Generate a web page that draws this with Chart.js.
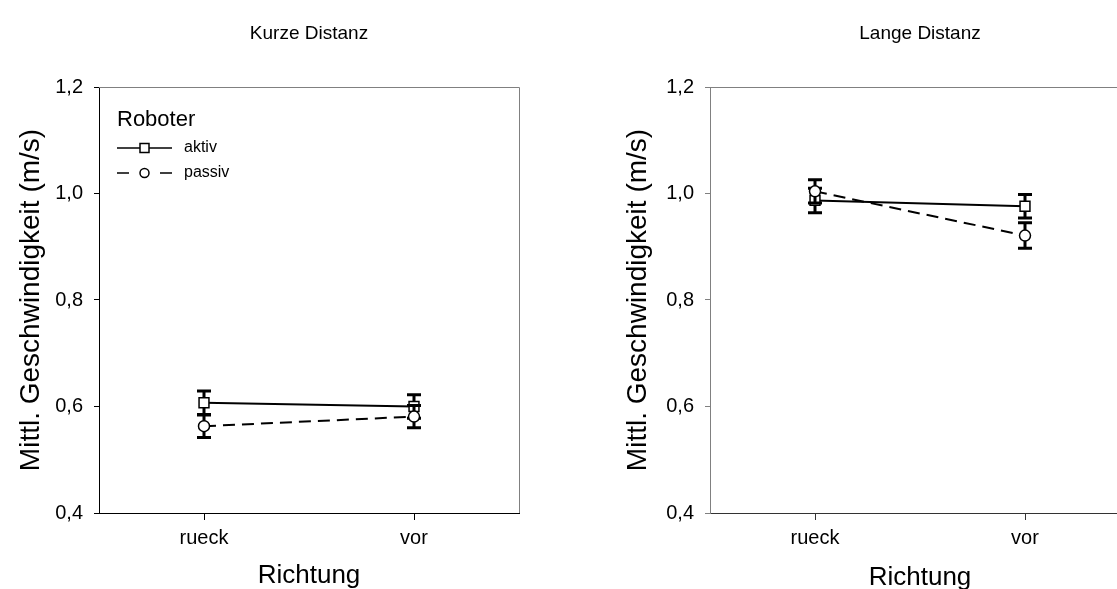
<!DOCTYPE html>
<html><head><meta charset="utf-8">
<script src="https://cdn.jsdelivr.net/npm/chart.js@4.4.1/dist/chart.umd.min.js"></script>
<style>
html,body{margin:0;padding:0;background:#fff;overflow:hidden;width:1117px;height:589px;}
#wrap{position:relative;width:1117px;height:589px;overflow:hidden;background:#fff;}
canvas{position:absolute;top:0;}
#c1{left:0;} #c2{left:590px;}
</style></head><body><div id="wrap">
<canvas id="c1" width="618" height="591" style="width:618px;height:591px"></canvas>
<canvas id="c2" width="660" height="593" style="width:660px;height:593px"></canvas>
</div>
<script>
const categories = ['rueck', 'vor'];
const yTickValues = [0.4, 0.6, 0.8, 1.0, 1.2];
const yTickLabels = ['0,4', '0,6', '0,8', '1,0', '1,2'];
const seriesNames = ['aktiv', 'passiv'];
const legendTitle = 'Roboter';
const yTitle = 'Mittl. Geschwindigkeit (m/s)';
const xTitle = 'Richtung';
const titleKurz = 'Kurze Distanz';
const titleLang = 'Lange Distanz';

const kurzAktiv = [0.607, 0.600];
const kurzAktivErr = [0.022, 0.022];
const kurzPassiv = [0.563, 0.581];
const kurzPassivErr = [0.021, 0.021];

const langAktiv = [0.987, 0.976];
const langAktivErr = [0.023, 0.022];
const langPassiv = [1.004, 0.921];
const langPassivErr = [0.022, 0.024];

const FONT = "'Liberation Sans', Arial, sans-serif";

const errorBarPlugin = {
  id: 'errorBars',
  beforeDatasetDraw(chart, args) {
    const ds = chart.data.datasets[args.index];
    if (!ds.errors) return;
    const xs = chart.scales.x, ys = chart.scales.y, ctx = chart.ctx;
    ctx.save();
    ctx.strokeStyle = '#000';
    ctx.lineWidth = 3;
    ds.data.forEach((v, i) => {
      const px = xs.getPixelForValue(i);
      const t = ys.getPixelForValue(v + ds.errors[i]);
      const b = ys.getPixelForValue(v - ds.errors[i]);
      ctx.beginPath();
      ctx.moveTo(px, t); ctx.lineTo(px, b);
      ctx.moveTo(px - 7, t); ctx.lineTo(px + 7, t);
      ctx.moveTo(px - 7, b); ctx.lineTo(px + 7, b);
      ctx.stroke();
    });
    ctx.restore();
  }
};

const framePlugin = {
  id: 'frame',
  afterDraw(chart, args, opts) {
    const a = chart.chartArea, ctx = chart.ctx;
    ctx.save();
    ctx.strokeStyle = opts.color || '#808080';
    ctx.lineWidth = 1;
    ctx.beginPath();
    ctx.moveTo(a.left, a.top + 0.5); ctx.lineTo(a.right + 0.5, a.top + 0.5);
    ctx.lineTo(a.right + 0.5, a.bottom);
    ctx.stroke();
    ctx.restore();
  }
};

const legendPlugin = {
  id: 'innerLegend',
  afterDraw(chart, args, opts) {
    if (!opts.show) return;
    const a = chart.chartArea, ctx = chart.ctx;
    const x0 = a.left + 18;
    ctx.save();
    ctx.fillStyle = '#000';
    ctx.textBaseline = 'middle';
    ctx.textAlign = 'left';
    ctx.font = '22px ' + FONT;
    ctx.fillText(legendTitle, x0, a.top + 33);
    let y = a.top + 61;
    ctx.strokeStyle = '#000'; ctx.lineWidth = 1.5;
    ctx.beginPath(); ctx.moveTo(x0, y); ctx.lineTo(x0 + 55, y); ctx.stroke();
    ctx.fillStyle = '#fff';
    ctx.fillRect(x0 + 23, y - 4.5, 9, 9);
    ctx.strokeRect(x0 + 23, y - 4.5, 9, 9);
    ctx.fillStyle = '#000';
    ctx.font = '16px ' + FONT;
    ctx.fillText(seriesNames[0], x0 + 67, y);
    y = a.top + 86;
    ctx.beginPath(); ctx.moveTo(x0, y); ctx.lineTo(x0 + 12, y);
    ctx.moveTo(x0 + 43, y); ctx.lineTo(x0 + 55, y); ctx.stroke();
    ctx.fillStyle = '#fff';
    ctx.beginPath(); ctx.arc(x0 + 27.5, y, 4.5, 0, Math.PI * 2); ctx.fill(); ctx.stroke();
    ctx.fillStyle = '#000';
    ctx.fillText(seriesNames[1], x0 + 67, y);
    ctx.restore();
  }
};

function makeChart(id, title, aktiv, aktivErr, passiv, passivErr, cfg) {
  return new Chart(document.getElementById(id), {
    type: 'line',
    data: {
      labels: categories,
      datasets: [
        {
          label: seriesNames[0], data: aktiv, errors: aktivErr, order: 1, yAxisID: 'y',
          borderColor: '#000', borderWidth: 2, fill: false, tension: 0,
          pointStyle: 'rect', pointRadius: 7, pointHoverRadius: 7,
          pointBackgroundColor: '#fff', pointBorderColor: '#000', pointBorderWidth: 1.5,
          clip: false
        },
        {
          label: seriesNames[1], data: passiv, errors: passivErr, order: 0, yAxisID: 'y',
          borderColor: '#000', borderWidth: 2, borderDash: [12, 7], fill: false, tension: 0,
          pointStyle: 'circle', pointRadius: 5.5, pointHoverRadius: 5.5,
          pointBackgroundColor: '#fff', pointBorderColor: '#000', pointBorderWidth: 1.5,
          clip: false
        }
      ]
    },
    options: {
      responsive: false, animation: false, devicePixelRatio: 1,
      events: [],
      layout: { padding: 0 },
      plugins: {
        legend: { display: false },
        tooltip: { enabled: false },
        title: {
          display: true, text: title, color: '#000',
          font: { family: FONT, size: 19, weight: 'normal' },
          padding: { top: 22, bottom: 42.2 }
        },
        frame: { color: cfg.frameColor },
        innerLegend: { show: cfg.legend }
      },
      scales: {
        x: {
          type: 'category', offset: true,
          grid: { offset: false, drawOnChartArea: false, drawTicks: true, tickLength: 7, color: cfg.xColor },
          border: { display: true, color: cfg.xColor, width: 1 },
          ticks: { color: '#000', font: { family: FONT, size: 20 }, padding: 6, maxRotation: 0 },
          title: { display: true, text: xTitle, color: '#000', font: { family: FONT, size: 26 }, padding: { top: 0, bottom: 0 } },
          afterFit: (s) => { s.height = cfg.xHeight; }
        },
        y: {
          type: 'linear', min: 0.4, max: 1.2, position: 'left',
          afterBuildTicks: (s) => { s.ticks = yTickValues.map(v => ({ value: v })); },
          grid: { drawOnChartArea: false, drawTicks: true, tickLength: 5, color: cfg.yColor },
          border: { display: true, color: cfg.yColor, width: 1 },
          ticks: { color: '#000', font: { family: FONT, size: 20 }, padding: 11,
                   callback: (v, i) => yTickLabels[i] },
          title: { display: true, text: yTitle, color: '#000', font: { family: FONT, size: 28 }, padding: { top: cfg.yTitlePad, bottom: 0 } },
          afterFit: (s) => { s.width = cfg.yWidth; }
        },
        yPad: {
          type: 'linear', position: 'right', display: true,
          grid: { display: false }, border: { display: false },
          ticks: { display: false }, title: { display: false },
          afterFit: (s) => { s.width = cfg.padRight; }
        }
      }
    },
    plugins: [errorBarPlugin, framePlugin, legendPlugin]
  });
}

makeChart('c1', titleKurz, kurzAktiv, kurzAktivErr, kurzPassiv, kurzPassivErr, {
  padRight: 99, xHeight: 78, yWidth: 99, yTitlePad: 14,
  xColor: '#000', yColor: '#000', frameColor: '#808080', legend: true
});
makeChart('c2', titleLang, langAktiv, langAktivErr, langPassiv, langPassivErr, {
  padRight: 120, xHeight: 80, yWidth: 120, yTitlePad: 31,
  xColor: '#333', yColor: '#808080', frameColor: '#808080', legend: false
});
</script>
</body></html>
